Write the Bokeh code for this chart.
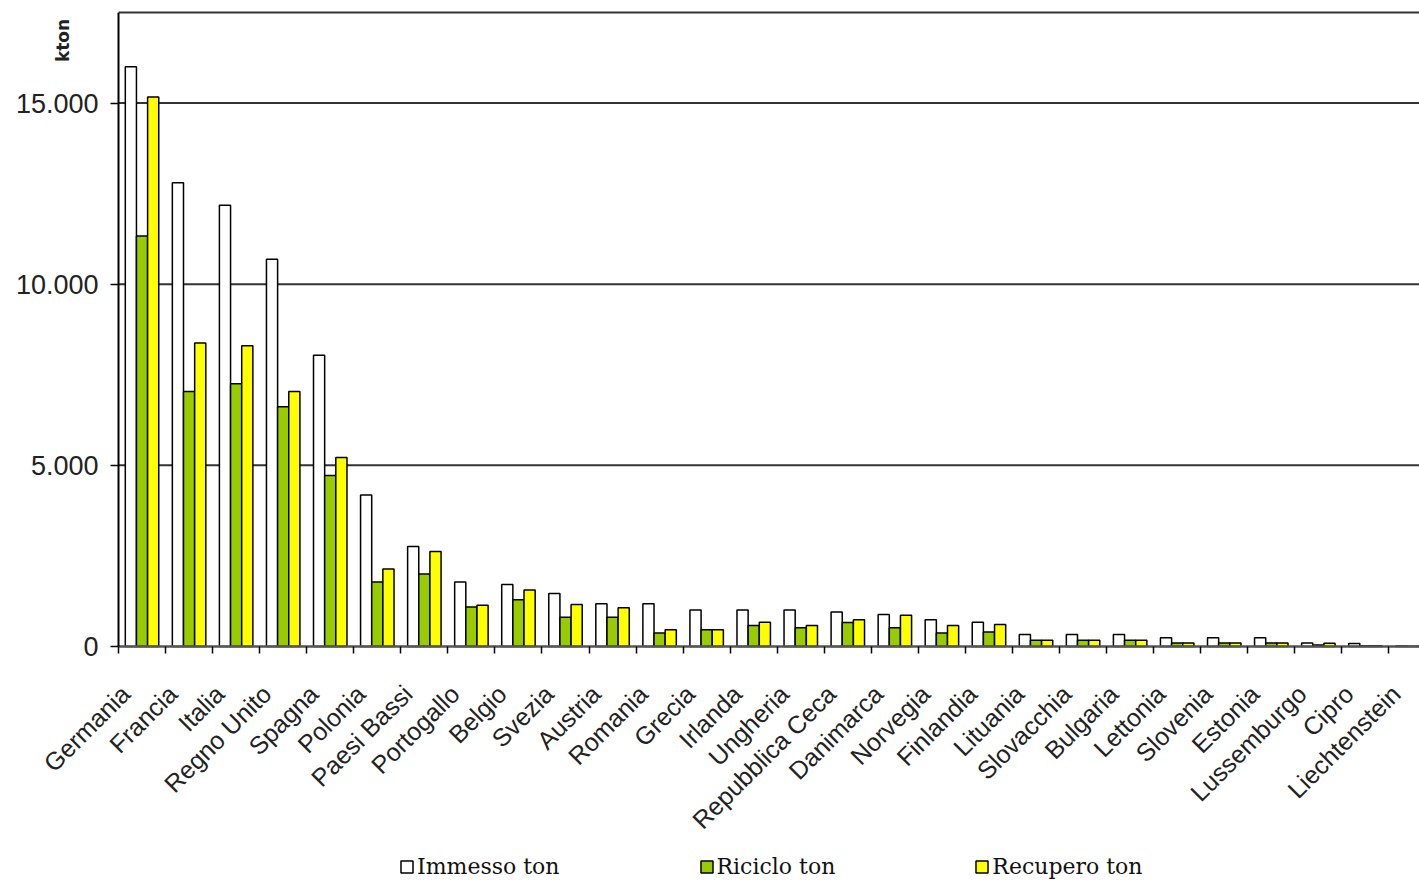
import math
from bokeh.plotting import figure
from bokeh.models import (ColumnDataSource, Range1d, FixedTicker, LinearAxis,
                          Legend, LegendItem)
from bokeh.embed import file_html
from bokeh.resources import INLINE

countries = ["Germania", "Francia", "Italia", "Regno Unito", "Spagna", "Polonia",
             "Paesi Bassi", "Portogallo", "Belgio", "Svezia", "Austria", "Romania",
             "Grecia", "Irlanda", "Ungheria", "Repubblica Ceca", "Danimarca",
             "Norvegia", "Finlandia", "Lituania", "Slovacchia", "Bulgaria",
             "Lettonia", "Slovenia", "Estonia", "Lussemburgo", "Cipro", "Liechtenstein"]
immesso = [16000, 12800, 12180, 10690, 8040, 4180, 2760, 1780, 1710, 1460, 1180, 1180,
           1010, 1010, 1010, 950, 880, 740, 670, 330, 330, 330, 240, 240, 240, 100, 80, 15]
riciclo = [11330, 7040, 7250, 6620, 4720, 1780, 2000, 1090, 1290, 810, 810, 370,
           460, 580, 520, 660, 520, 370, 400, 170, 170, 170, 100, 100, 100, 40, 20, 5]
recupero = [15170, 8380, 8300, 7040, 5220, 2140, 2620, 1140, 1560, 1160, 1070, 460,
            460, 670, 580, 740, 860, 580, 610, 170, 170, 170, 100, 100, 100, 90, 20, 5]
series_names = ["Immesso ton", "Riciclo ton", "Recupero ton"]
y_ticks = [0, 5000, 10000, 15000]
y_tick_labels = ["0", "5.000", "10.000", "15.000"]
grid_values = [5000, 10000, 15000]
y_max = 17500
unit_label = "kton"

# layout (pixels)
LEFT = 118                     # room left of the bars for the value labels
PLOT_W, PLOT_H = 1301, 634     # visible plot area (bars region)
BOTTOM = 236                   # room under the bars for labels and legend
x_end = 27.65                  # right edge is cut, as in the original
units_per_px = y_max / PLOT_H
px_per_cat = PLOT_W / x_end
y_start = -BOTTOM * units_per_px
x_start = -LEFT / px_per_cat

n = len(countries)
centers = [i + 0.5 for i in range(n)]
label_pos = [i + 0.15 for i in range(n)]
bw = 0.237
src = ColumnDataSource(dict(
    xi=[c - bw for c in centers], xr=centers, xc=[c + bw for c in centers],
    immesso=immesso, riciclo=riciclo, recupero=recupero))

p = figure(frame_width=LEFT + PLOT_W, frame_height=PLOT_H + BOTTOM,
           output_backend="svg", toolbar_location=None,
           x_range=Range1d(x_start, x_end), y_range=Range1d(y_start, y_max),
           min_border_left=0, min_border_right=0, min_border_top=12,
           min_border_bottom=0, x_axis_type=None, y_axis_type=None)
p.outline_line_color = None
p.background_fill_color = "white"
p.border_fill_color = "white"
p.xgrid.visible = False
p.ygrid.visible = False

# horizontal grid lines behind the bars
p.segment(x0=[0] * len(grid_values), x1=[x_end] * len(grid_values),
          y0=grid_values, y1=grid_values, line_color="#333333", line_width=2,
          level="underlay")

r1 = p.vbar(x="xi", top="immesso", width=bw, source=src, fill_color="white",
            line_color="black", line_width=1.5)
r2 = p.vbar(x="xr", top="riciclo", width=bw, source=src, fill_color="#99CC00",
            line_color="black", line_width=1.5)
r3 = p.vbar(x="xc", top="recupero", width=bw, source=src, fill_color="#FFFF00",
            line_color="black", line_width=1.5)

# x axis at value 0: labels near category centers, tick marks at category boundaries
xt = FixedTicker(ticks=label_pos, minor_ticks=list(range(n + 1)))
xaxis = LinearAxis(ticker=xt, fixed_location=0, bounds=(0, x_end))
xaxis.major_label_overrides = {c: name for c, name in zip(label_pos, countries)}
xaxis.major_label_orientation = math.pi / 4
xaxis.major_tick_line_color = None
xaxis.major_tick_out = 0
xaxis.minor_tick_line_color = "black"
xaxis.minor_tick_line_width = 1.5
xaxis.minor_tick_out = 7
xaxis.minor_tick_in = 0
xaxis.axis_line_color = "#555555"
xaxis.axis_line_width = 2.5
xaxis.major_label_text_font = "Liberation Sans"
xaxis.major_label_text_font_size = "25px"
xaxis.major_label_text_color = "#222222"
xaxis.major_label_standoff = 36
p.add_layout(xaxis, "below")

# top border of the plot area
top_axis = LinearAxis(ticker=FixedTicker(ticks=[]), bounds=(0, x_end))
top_axis.major_tick_line_color = None
top_axis.minor_tick_line_color = None
top_axis.major_label_text_font_size = "0px"
top_axis.major_label_standoff = 0
top_axis.axis_line_color = "#333333"
top_axis.axis_line_width = 2
p.add_layout(top_axis, "above")

# value axis at the left edge of the bars region
yaxis = LinearAxis(ticker=FixedTicker(ticks=y_ticks), fixed_location=0,
                   bounds=(0, y_max))
yaxis.major_label_overrides = {t: l for t, l in zip(y_ticks, y_tick_labels)}
yaxis.major_tick_out = 8
yaxis.major_tick_in = 0
yaxis.major_tick_line_width = 1.5
yaxis.minor_tick_line_color = None
yaxis.axis_line_color = "black"
yaxis.axis_line_width = 2
yaxis.major_label_text_font = "Liberation Sans"
yaxis.major_label_text_font_size = "27px"
yaxis.major_label_text_color = "#222222"
yaxis.major_label_standoff = 12
p.add_layout(yaxis, "left")

# unit label "kton" near the top-left, as an empty axis carrying only its label
unit_axis = LinearAxis(ticker=FixedTicker(ticks=[]),
                       fixed_location=-44 / px_per_cat,
                       bounds=(y_max - 56 * units_per_px, y_max))
unit_axis.axis_line_color = None
unit_axis.major_tick_line_color = None
unit_axis.minor_tick_line_color = None
unit_axis.major_label_text_font_size = "0px"
unit_axis.axis_label = unit_label
unit_axis.axis_label_standoff = 2
unit_axis.axis_label_text_font = "DejaVu Sans"
unit_axis.axis_label_text_font_style = "bold"
unit_axis.axis_label_text_font_size = "17px"
unit_axis.axis_label_text_color = "#222222"
p.add_layout(unit_axis, "left")

legend = Legend(items=[LegendItem(label=series_names[0], renderers=[r1]),
                       LegendItem(label=series_names[1], renderers=[r2]),
                       LegendItem(label=series_names[2], renderers=[r3])],
                orientation="horizontal", location=(LEFT + 281, 3))
legend.border_line_color = None
legend.background_fill_alpha = 0
legend.glyph_width = 15
legend.glyph_height = 15
legend.label_standoff = 3
legend.spacing = 139
legend.padding = 0
legend.margin = 0
legend.label_text_font = "DejaVu Serif"
legend.label_text_font_size = "22px"
legend.label_text_color = "#111111"
p.add_layout(legend, "center")

open("out.html", "w").write(file_html(p, INLINE))
